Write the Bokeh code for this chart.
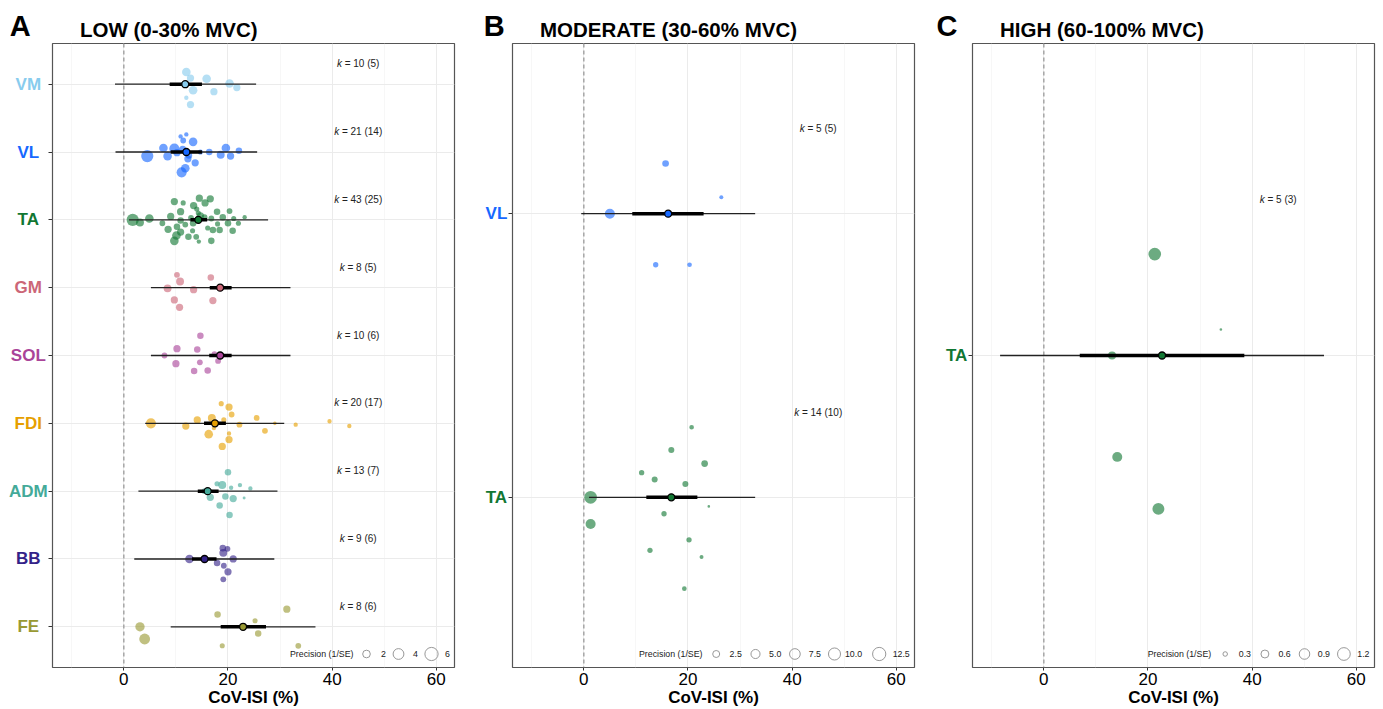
import math
from bokeh.plotting import figure
from bokeh.layouts import row
from bokeh.models import Label, FixedTicker, Range1d, ColumnDataSource, Span, Grid
from bokeh.core.properties import value
from bokeh.embed import file_html
from bokeh.resources import INLINE

FONT = "Liberation Sans"

# ---------------- DATA ----------------
# Panel A : LOW (0-30% MVC), muscles listed top to bottom
low_muscles = ["VM", "VL", "TA", "GM", "SOL", "FDI", "ADM", "BB", "FE"]
low_colors = ["#88CCEE", "#1668FF", "#117733", "#CC6677", "#AA4499",
              "#E69F00", "#44AA99", "#332288", "#999933"]
low_mean = [11.8, 12.0, 14.3, 18.5, 18.5, 17.5, 16.1, 15.5, 22.9]
low_ci_lo = [8.8, 9.0, 12.8, 16.5, 16.4, 15.4, 14.2, 13.1, 18.6]
low_ci_hi = [15.0, 15.0, 16.0, 20.7, 20.7, 19.6, 18.2, 17.8, 27.3]
low_pi_lo = [-1.7, -1.6, 1.0, 5.2, 5.2, 4.1, 2.8, 2.0, 9.0]
low_pi_hi = [25.4, 25.6, 27.7, 32.0, 32.0, 30.8, 29.5, 28.9, 36.8]
low_k = [10, 21, 43, 8, 10, 20, 13, 9, 8]
low_studies = [5, 14, 25, 5, 6, 17, 7, 6, 6]

# individual effect sizes: CoV-ISI (%), vertical jitter (category units), precision (1/SE)
vm_x = [12.0, 12.8, 15.9, 20.3, 21.7, 13.3, 17.3, 12.0, 12.8, 11.5]
vm_jit = [0.18, 0.09, 0.08, 0.01, -0.05, -0.09, -0.11, -0.20, -0.30, 0.0]
vm_prec = [2.55, 1.8, 2.55, 2.55, 1.8, 2.55, 1.8, 0.65, 1.8, 1.15]

vl_x = [10.9, 12.0, 11.4, 13.3, 7.6, 9.7, 11.3, 4.5, 8.4, 16.4, 19.6, 22.1, 18.6,
        20.5, 12.3, 13.7, 11.8, 11.1, 12.5, 10.2, 14.7]
vl_jit = [0.23, 0.26, 0.17, 0.15, 0.06, 0.05, 0.04, -0.06, -0.06, 0.0, 0.06, 0.02,
          -0.04, -0.06, -0.10, -0.16, -0.24, -0.30, -0.05, -0.01, 0.0]
vl_prec = [0.65, 0.65, 1.15, 2.55, 2.55, 3.5, 1.8, 5.1, 2.55, 1.45, 2.55, 1.45, 2.15,
           1.8, 1.8, 1.8, 2.55, 3.5, 1.45, 1.8, 0.9]

ta_x = [9.7, 11.4, 14.5, 16.6, 15.6, 10.9, 13.4, 14.3, 14.7, 17.9, 20.3, 23.2, 1.7,
        3.1, 4.9, 9.0, 12.9, 16.8, 19.0, 21.1, 20.0, 22.0, 8.5, 10.2, 13.3, 13.2,
        17.1, 18.4, 20.9, 10.9, 10.1, 12.4, 13.9, 16.8, 9.7, 14.4, 15.5, 11.8, 16.1,
        10.9, 18.0, 14.0, 7.4]
ta_jit = [0.27, 0.25, 0.32, 0.31, 0.25, 0.12, 0.21, 0.10, 0.06, 0.12, 0.13, 0.04, 0.0,
          -0.04, 0.02, 0.05, 0.03, 0.02, 0.04, 0.02, -0.05, -0.05, -0.14, -0.10, -0.05,
          -0.16, -0.15, -0.15, -0.16, -0.18, -0.23, -0.25, -0.25, -0.31, -0.31, -0.32,
          0.04, -0.07, -0.12, -0.01, -0.06, 0.16, -0.05]
ta_prec = [1.8, 0.9, 1.8, 1.8, 1.8, 1.8, 1.8, 0.9, 1.8, 1.45, 1.15, 0.65, 5.1,
           2.15, 2.55, 1.8, 1.15, 1.15, 1.45, 0.9, 1.45, 0.9, 1.8, 1.45, 1.45, 0.9,
           1.45, 1.45, 1.45, 1.8, 2.55, 1.45, 1.15, 1.45, 2.55, 0.65, 1.15, 1.15, 0.9,
           1.45, 0.9, 0.9, 1.15]

gm_x = [10.2, 10.8, 16.7, 8.4, 13.4, 9.7, 17.1, 10.7]
gm_jit = [0.19, 0.09, 0.15, -0.01, -0.03, -0.18, -0.19, -0.29]
gm_prec = [1.15, 2.15, 1.45, 2.15, 1.8, 1.8, 1.8, 1.8]

sol_x = [14.7, 10.2, 14.1, 17.4, 7.8, 10.0, 14.6, 18.1, 13.5, 16.1]
sol_jit = [0.29, 0.10, 0.09, 0.02, 0.0, -0.12, -0.10, -0.08, -0.23, -0.22]
sol_prec = [1.45, 1.8, 1.45, 1.15, 1.15, 1.8, 1.15, 1.15, 1.45, 1.45]

fdi_x = [18.7, 20.2, 20.7, 16.9, 14.1, 25.5, 5.2, 11.9, 19.2, 22.2, 29.0, 33.0, 39.5,
         43.3, 17.3, 16.3, 20.2, 27.1, 20.2, 18.9]
fdi_jit = [0.29, 0.24, 0.13, 0.08, 0.05, 0.08, 0.0, -0.04, 0.05, -0.02, 0.0, -0.02, 0.03,
           -0.04, -0.07, -0.16, -0.15, -0.11, -0.24, -0.34]
fdi_prec = [0.9, 1.8, 1.15, 2.15, 1.8, 1.15, 3.5, 1.8, 0.9, 1.15, 0.45, 0.65, 0.65,
            0.65, 0.65, 2.55, 0.65, 1.15, 1.8, 1.8]

adm_x = [20.0, 17.9, 18.9, 20.6, 22.3, 24.3, 19.5, 21.0, 16.6, 23.1, 18.4, 20.3, 15.5]
adm_jit = [0.28, 0.11, 0.09, 0.05, 0.09, 0.04, -0.08, -0.11, -0.09, -0.10, -0.21, -0.35, 0.0]
adm_prec = [1.45, 0.9, 2.15, 0.65, 0.65, 0.65, 1.45, 1.8, 1.8, 0.3, 1.45, 1.45, 1.15]

bb_x = [19.0, 19.9, 19.1, 12.6, 21.0, 17.9, 19.2, 20.0, 19.1]
bb_jit = [0.16, 0.15, 0.09, 0.0, 0.0, -0.06, -0.10, -0.19, -0.30]
bb_prec = [1.45, 1.15, 2.15, 2.55, 1.8, 1.45, 1.15, 1.8, 1.15]

fe_x = [31.3, 18.0, 25.2, 3.1, 4.0, 25.8, 18.9, 33.5]
fe_jit = [0.26, 0.18, 0.09, 0.0, -0.18, -0.10, -0.28, -0.28]
fe_prec = [1.8, 1.45, 0.9, 3.0, 4.0, 1.45, 0.9, 1.15]

# Panel B : MODERATE (30-60% MVC)
mod_muscles = ["VL", "TA"]
mod_colors = ["#1668FF", "#117733"]
mod_mean = [16.2, 16.8]
mod_ci_lo = [9.3, 12.0]
mod_ci_hi = [23.0, 21.8]
mod_pi_lo = [-0.5, 1.0]
mod_pi_hi = [32.9, 32.9]
mod_k = [5, 14]
mod_studies = [5, 10]

mvl_x = [15.7, 26.4, 5.0, 13.8, 20.3]
mvl_jit = [0.177, 0.058, 0.0, -0.18, -0.18]
mvl_prec = [2.2, 0.42, 6.4, 1.13, 0.73]

mta_x = [20.7, 16.8, 23.2, 11.1, 13.6, 19.5, 1.3, 24.0, 15.4, 1.3, 20.2, 12.7, 22.6, 19.3]
mta_jit = [0.247, 0.167, 0.119, 0.087, 0.063, 0.047, 0.0, -0.032, -0.058, -0.094,
           -0.150, -0.187, -0.210, -0.322]
mta_prec = [0.73, 1.62, 2.2, 1.13, 1.62, 1.62, 11.3, 0.05, 1.13, 6.4, 1.13, 1.13, 0.42, 0.73]

# Panel C : HIGH (60-100% MVC)
high_muscles = ["TA"]
high_colors = ["#117733"]
high_mean = [22.7]
high_ci_lo = [6.9]
high_ci_hi = [38.5]
high_pi_lo = [-8.4]
high_pi_hi = [53.8]
high_k = [5]
high_studies = [3]

hta_x = [21.3, 34.0, 13.1, 14.1, 22.0]
hta_jit = [0.195, 0.050, 0.0, -0.195, -0.295]
hta_prec = [1.19, 0.18, 0.61, 0.83, 1.09]

x_ticks = [0, 20, 40, 60]
x_minor = [-10, 10, 30, 50]

legA_vals = [2, 4, 6]
legA_labels = ["2", "4", "6"]
legB_vals = [2.5, 5.0, 7.5, 10.0, 12.5]
legB_labels = ["2.5", "5.0", "7.5", "10.0", "12.5"]
legC_vals = [0.3, 0.6, 0.9, 1.2]
legC_labels = ["0.3", "0.6", "0.9", "1.2"]

# ---------------- LAYOUT CONSTANTS ----------------
X0, X1 = -13.7, 63.5
H = 709
BT, BB_ = 43, 42
FRAME_W = 402
FRAME_H = H - BT - BB_

CW = {" ": 278, "=": 584, "(": 333, ")": 333, "k": 500}


def tw(s, size):
    return sum(CW.get(c, 556) for c in s) * size / 1000.0


def size_A(p):
    return 5.4 * math.sqrt(p)


def size_B(p):
    return 1.93 + 3.2 * math.sqrt(p)


def size_C(p):
    return -3.7 + 15.0 * math.sqrt(p)


def panel(letter, title, muscles, colors, pts, mean, ci_lo, ci_hi, pi_lo, pi_hi,
          kk, ss, leg_vals, leg_labels, size_fn, lab_w, main_w, br, letter_dx,
          lab_cx, leg_title_end, leg_circ, leg_num):
    n = len(muscles)
    cats = [n - i for i in range(n)]
    yr = Range1d(0.4, n + 0.6)

    # ---- main plotting panel ----
    p = figure(width=main_w, height=H, x_range=Range1d(X0, X1), y_range=yr,
               output_backend="svg", toolbar_location=None)
    p.min_border_left = 4
    p.min_border_right = br
    p.min_border_top = BT
    p.min_border_bottom = BB_
    p.background_fill_color = "white"
    p.border_fill_color = "white"
    p.outline_line_color = "#555555"
    p.outline_line_width = 1.2

    p.title.text = title
    p.title.align = "left"
    p.title.offset = 27.5
    p.title.standoff = 5
    p.title.text_font = FONT
    p.title.text_font_size = "20.5px"
    p.title.text_font_style = "bold"
    p.title.text_color = "black"

    p.xaxis.ticker = FixedTicker(ticks=x_ticks, minor_ticks=x_minor)
    p.yaxis.ticker = FixedTicker(ticks=cats)
    p.yaxis.major_label_overrides = {c: "" for c in cats}
    p.yaxis.major_label_standoff = 0
    for ax in (p.xaxis, p.yaxis):
        ax.axis_line_color = None
        ax.major_tick_line_color = "#333333"
        ax.major_tick_in = 0
        ax.minor_tick_line_color = None
    p.xaxis.major_tick_out = 3
    p.yaxis.major_tick_out = 4
    p.xaxis.major_label_text_font = FONT
    p.xaxis.major_label_text_font_size = "17px"
    p.xaxis.major_label_text_color = "black"
    p.xaxis.major_label_standoff = 1
    p.xaxis.axis_label = "CoV-ISI (%)"
    p.xaxis.axis_label_text_font = FONT
    p.xaxis.axis_label_text_font_size = "17px"
    p.xaxis.axis_label_text_font_style = "bold"
    p.xaxis.axis_label_text_color = "black"
    p.xaxis.axis_label_standoff = 0

    p.xgrid.grid_line_color = "#EBEBEB"
    p.xgrid.grid_line_width = 1.0
    p.xgrid.minor_grid_line_color = "#F3F3F3"
    p.xgrid.minor_grid_line_width = 0.7
    p.ygrid.grid_line_color = "#EBEBEB"
    p.ygrid.grid_line_width = 1.0

    p.add_layout(Span(location=0, dimension="height", line_color="#9a9a9a",
                      line_width=1.3, line_dash="4 3", level="underlay"))

    # individual studies
    for ci, (xs, js, ps) in enumerate(pts):
        src = ColumnDataSource(dict(x=xs, y=[cats[ci] + j for j in js],
                                    s=[size_fn(v) for v in ps]))
        p.scatter("x", "y", size="s", source=src, fill_color=colors[ci],
                  fill_alpha=0.62, line_color=None)

    # pooled estimates
    sm = ColumnDataSource(dict(y=cats, m=mean, cl=ci_lo, ch=ci_hi, pl=pi_lo,
                               ph=pi_hi, c=colors))
    p.segment(x0="pl", y0="y", x1="ph", y1="y", source=sm, line_color="#222222",
              line_width=1.3)
    p.segment(x0="cl", y0="y", x1="ch", y1="y", source=sm, line_color="black",
              line_width=3.5)
    p.scatter("m", "y", source=sm, size=7, fill_color="c", line_color="black",
              line_width=1.3)

    # k labels
    kx, ky, kdx, rt, rdx = [], [], [], [], []
    for i in range(n):
        rest = "= %d (%d)" % (kk[i], ss[i])
        wk = tw("k ", 10)
        tot = wk + tw(rest, 10)
        kx.append(45.0); ky.append(cats[i] + 0.3); kdx.append(-tot / 2)
        rt.append(rest); rdx.append(-tot / 2 + wk)
    p.text(x="x", y="y", text=value("k"), x_offset="dx",
           source=ColumnDataSource(dict(x=kx, y=ky, dx=kdx)),
           text_font=value(FONT), text_font_size=value("10px"), text_font_style="italic",
           text_color="#222222", text_align="left", text_baseline="middle")
    p.text(x="x", y="y", text="t", x_offset="dx",
           source=ColumnDataSource(dict(x=kx, y=ky, t=rt, dx=rdx)),
           text_font=value(FONT), text_font_size=value("10px"),
           text_color="#222222", text_align="left", text_baseline="middle")

    # size legend
    ppx = FRAME_W / (X1 - X0)
    ppy = FRAME_H / (n + 0.2)
    leg_y = 0.4 + 13.5 / ppy
    p.add_layout(Label(x=X1, y=0.4, x_offset=-leg_title_end, y_offset=13.5,
                       text="Precision (1/SE)", text_font=FONT, text_font_size="8.8px",
                       text_color="#1a1a1a", text_align="right", text_baseline="middle"))
    lsrc = ColumnDataSource(dict(x=[X1 - o / ppx for o in leg_circ],
                                 y=[leg_y] * len(leg_vals),
                                 s=[size_fn(v) for v in leg_vals]))
    p.scatter("x", "y", size="s", source=lsrc, fill_color=None, line_color="#8c8c8c",
              line_width=0.9)
    for lab, o in zip(leg_labels, leg_num):
        p.add_layout(Label(x=X1, y=0.4, x_offset=-o, y_offset=13.5, text=lab,
                           text_font=FONT, text_font_size="8.8px", text_color="#1a1a1a",
                           text_align="center", text_baseline="middle"))

    # ---- category-label strip (coloured muscle names + panel letter) ----
    lf = figure(width=lab_w, height=H, x_range=Range1d(0, lab_w), y_range=yr,
                x_axis_location=None, y_axis_location=None,
                output_backend="svg", toolbar_location=None)
    for r in list(lf.center):
        if isinstance(r, Grid):
            r.visible = False
            r.grid_line_color = None
    lf.min_border_left = 0
    lf.min_border_right = 0
    lf.min_border_top = BT
    lf.min_border_bottom = BB_
    lf.outline_line_color = None
    lf.background_fill_color = "white"
    lf.border_fill_color = "white"
    lf.title.text = letter
    lf.title.align = "left"
    lf.title.offset = letter_dx
    lf.title.standoff = 3
    lf.title.text_font = FONT
    lf.title.text_font_size = "29px"
    lf.title.text_font_style = "bold"
    lf.title.text_color = "black"
    lsrc2 = ColumnDataSource(dict(x=[lab_cx] * n, y=cats, t=muscles, c=colors))
    lf.text(x="x", y="y", text="t", text_color="c", source=lsrc2,
            text_font=value(FONT), text_font_size=value("17px"), text_font_style="bold",
            text_align="center", text_baseline="middle")
    return lf, p


lA, pA = panel("A", "LOW (0-30% MVC)", low_muscles, low_colors,
               [(vm_x, vm_jit, vm_prec), (vl_x, vl_jit, vl_prec), (ta_x, ta_jit, ta_prec),
                (gm_x, gm_jit, gm_prec), (sol_x, sol_jit, sol_prec),
                (fdi_x, fdi_jit, fdi_prec), (adm_x, adm_jit, adm_prec),
                (bb_x, bb_jit, bb_prec), (fe_x, fe_jit, fe_prec)],
               low_mean, low_ci_lo, low_ci_hi, low_pi_lo, low_pi_hi, low_k, low_studies,
               legA_vals, legA_labels, size_A, 48, 413, 7, 9.3, 27.8,
               101, [88, 56, 23], [71, 39, 7])

lB, pB = panel("B", "MODERATE (30-60% MVC)", mod_muscles, mod_colors,
               [(mvl_x, mvl_jit, mvl_prec), (mta_x, mta_jit, mta_prec)],
               mod_mean, mod_ci_lo, mod_ci_hi, mod_pi_lo, mod_pi_hi, mod_k, mod_studies,
               legB_vals, legB_labels, size_B, 47, 413, 7, 22.3, 34.9,
               212, [198.3, 159, 119.6, 80, 35.3], [178.8, 139.3, 99.6, 61, 13.3])

lC, pC = panel("C", "HIGH (60-100% MVC)", high_muscles, high_colors,
               [(hta_x, hta_jit, hta_prec)],
               high_mean, high_ci_lo, high_ci_hi, high_pi_lo, high_pi_hi, high_k,
               high_studies, legC_vals, legC_labels, size_C, 47, 415, 9, 15.0, 35.2,
               163.3, [149.3, 109.6, 70, 30.6], [129.6, 90, 50.6, 11.1])

layout = row(lA, pA, lB, pB, lC, pC, spacing=0)
open("out.html", "w").write(file_html(layout, INLINE))
